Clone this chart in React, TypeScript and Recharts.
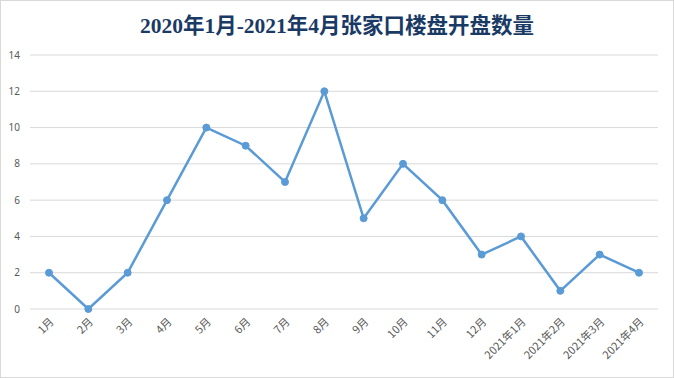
import { LineChart, Line, XAxis, YAxis, CartesianGrid } from 'recharts';

const months = [
  '1月', '2月', '3月', '4月', '5月', '6月', '7月', '8月',
  '9月', '10月', '11月', '12月', '2021年1月', '2021年2月', '2021年3月', '2021年4月',
];
const openings = [2, 0, 2, 6, 10, 9, 7, 12, 5, 8, 6, 3, 4, 1, 3, 2];
const yTicks = [0, 2, 4, 6, 8, 10, 12, 14];

const data = months.map((m, i) => ({ month: m, count: openings[i] }));

const TITLE = '2020年1月-2021年4月张家口楼盘开盘数量';

export default function App() {
  return (
    <div
      style={{
        position: 'absolute',
        left: 0,
        top: 0,
        width: 674,
        height: 378,
        boxSizing: 'border-box',
        border: '1px solid #d9d9d9',
        background: '#fff',
      }}
    >
      <div
        style={{
          position: 'absolute',
          left: 0,
          top: 7,
          width: 672,
          textAlign: 'center',
          fontFamily: '"Liberation Serif", "Noto Sans CJK SC", serif',
          fontWeight: 700,
          fontSize: 21.5,
          color: '#1a3a66',
        }}
      >
        {TITLE}
      </div>
      <div style={{ position: 'absolute', left: -1, top: -1 }}>
        <LineChart
          width={674}
          height={378}
          data={data}
          margin={{ top: 55, right: 16, bottom: 0, left: 0 }}
        >
          <CartesianGrid vertical={false} stroke="#d9d9d9" />
          <XAxis
            dataKey="month"
            axisLine={false}
            tickLine={false}
            interval={0}
            height={69}
            padding={{ left: 19, right: 19 }}
            angle={-45}
            textAnchor="end"
            tick={{ fill: '#595959', fontSize: 11, fontFamily: '"Noto Sans CJK SC", sans-serif' }}
          />
          <YAxis
            domain={[0, 14]}
            ticks={yTicks}
            width={30}
            axisLine={false}
            tickLine={false}
            tickMargin={4}
            tick={{ fill: '#595959', fontSize: 10, fontFamily: '"Noto Sans", sans-serif' }}
          />
          <Line
            type="linear"
            dataKey="count"
            stroke="#5b9bd5"
            strokeWidth={2.5}
            dot={{ r: 3.5, fill: '#5b9bd5', stroke: '#5b9bd5', strokeWidth: 1 }}
            isAnimationActive={false}
          />
        </LineChart>
      </div>
    </div>
  );
}
